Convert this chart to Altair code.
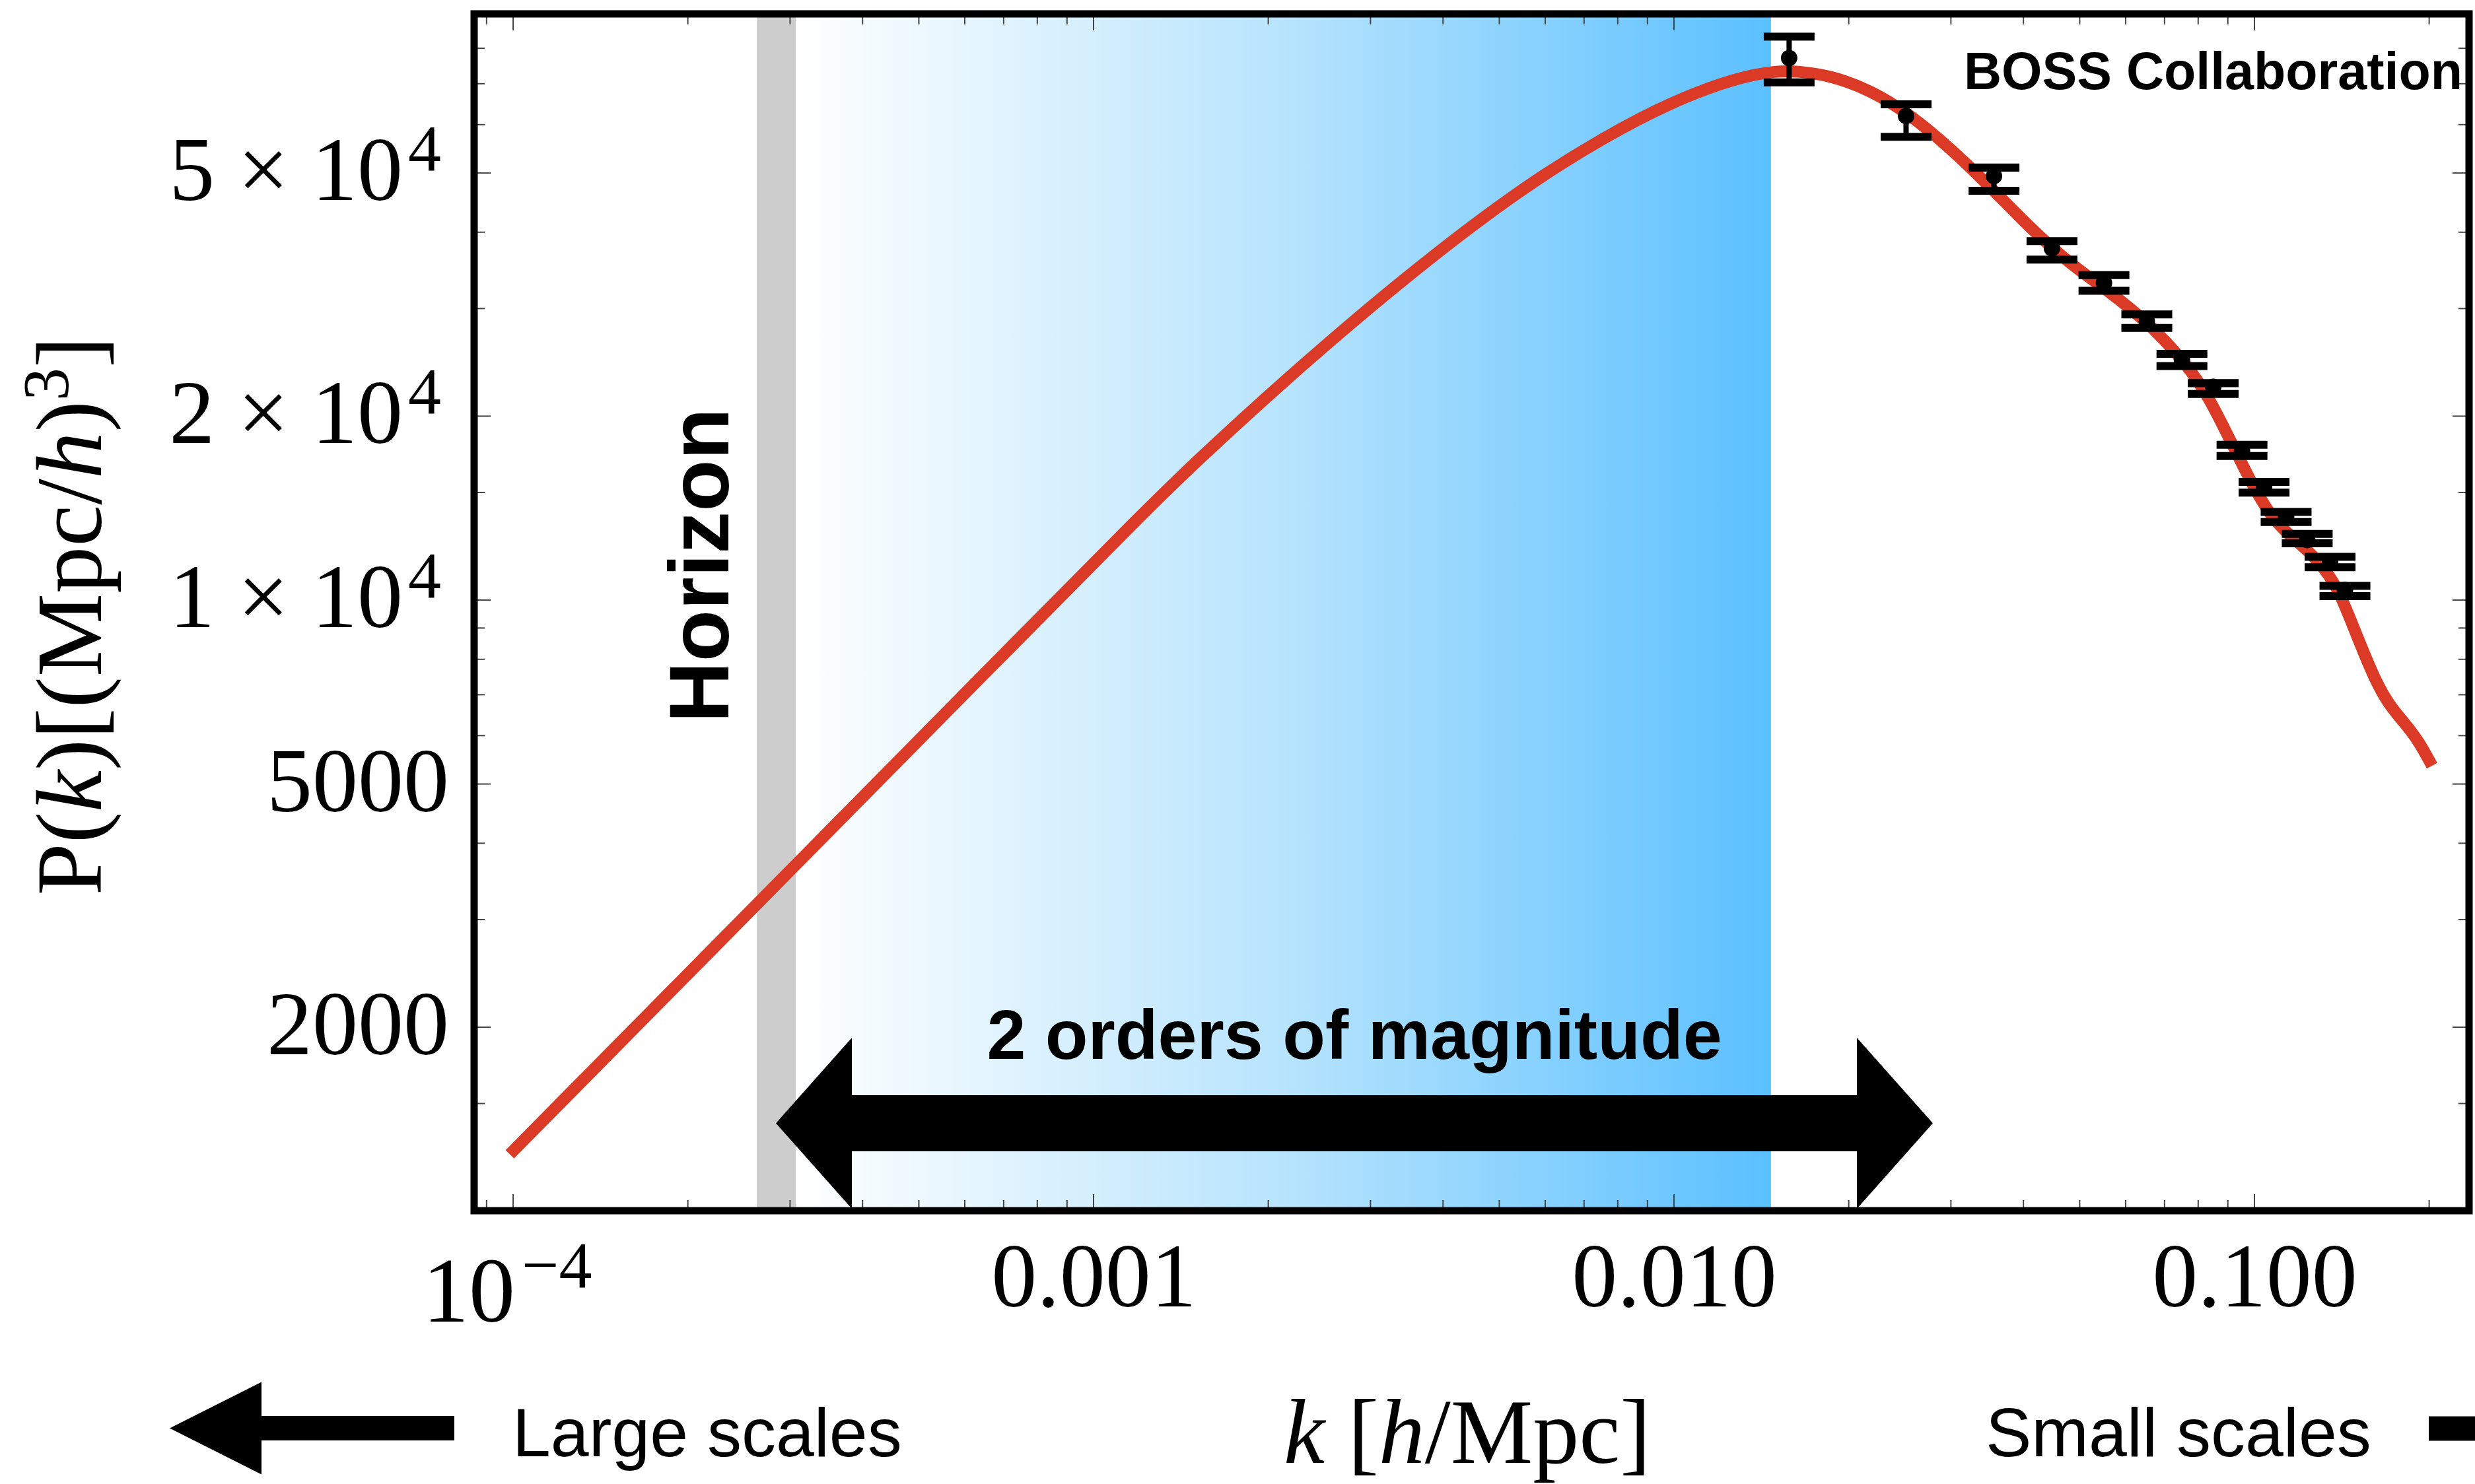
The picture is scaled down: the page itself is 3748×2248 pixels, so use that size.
import altair as alt
import pandas as pd

# ---------------- data ----------------
curve_k = [9.870e-5, 3.516e-4, 6.646e-4, 1.2526e-3, 1.512e-3, 1.976e-3,
           2.581e-3, 3.372e-3, 4.404e-3, 5.754e-3, 7.536e-3, 9.844e-3,
           1.286e-2, 1.509e-2, 1.636e-2, 1.855e-2, 2.177e-2, 2.547e-2,
           2.988e-2, 3.498e-2, 4.104e-2, 4.815e-2, 5.633e-2, 6.611e-2,
           7.735e-2, 8.392e-2, 9.076e-2, 9.817e-2, 0.1065, 0.1152, 0.1246,
           0.1351, 0.1416, 0.1477, 0.1545, 0.1615, 0.1702, 0.1822, 0.1920,
           0.2023]
curve_p = [1239, 4203, 7759, 14272, 16943, 21410,
           26760, 33113, 40480, 48660, 57050, 65260,
           71730, 73530, 73340, 72250, 68410, 62410,
           54960, 47590, 40680, 35460, 31960, 28290,
           24010, 21250, 18300, 15730, 13720, 12730, 11990,
           10965, 10050, 9097, 8176, 7401, 6749, 6265, 5872,
           5356]

boss_k = [0.01579, 0.02511, 0.03559, 0.04479, 0.05505, 0.06525, 0.07501,
          0.08492, 0.09519, 0.1039, 0.1134, 0.1233, 0.1350, 0.1432]
boss_p = [77130, 61980, 49430, 37630, 33050, 28610, 24740,
          22340, 17530, 15300, 13670, 12540, 11550, 10390]
boss_lo = [70360, 57300, 46760, 36080, 32080, 27880, 24150,
           21740, 17210, 14990, 13420, 12390, 11320, 10150]
boss_hi = [83590, 64760, 51030, 38680, 34020, 29350, 25290,
           22650, 17960, 15610, 13940, 12830, 11770, 10550]

horizon_band = [2.629e-4, 3.068e-4]
window_band = [3.068e-4, 0.01469]

x_major = [1e-4, 1e-3, 1e-2, 1e-1]
x_labels = ["", "0.001", "0.010", "0.100"]
x_pow_base, x_pow_exp = "10", "\u22124"
x_minor = [9e-5, 2e-4, 3e-4, 4e-4, 5e-4, 6e-4, 7e-4, 8e-4, 9e-4,
           2e-3, 3e-3, 4e-3, 5e-3, 6e-3, 7e-3, 8e-3, 9e-3,
           0.02, 0.03, 0.04, 0.05, 0.06, 0.07, 0.08, 0.09, 0.2]
y_major = [2000, 5000, 10000, 20000, 50000]
y_plain_vals = [2000, 5000]
y_plain_text = ["2000", "5000"]
y_sci_vals = [10000, 20000, 50000]
y_sci_text = ["1 \u00d7 10", "2 \u00d7 10", "5 \u00d7 10"]
y_sup_text = ["4", "4", "4"]
y_minor = [1500, 3000, 4000, 6000, 7000, 8000, 9000, 15000,
           30000, 40000, 60000, 70000, 80000]

x_domain = [8.567e-5, 0.2343]
y_domain = [1001.5, 91080]

# ---------------- layout / style ----------------
W, H = 3021, 1813
PAD = {"left": 718, "top": 21, "right": 9, "bottom": 414}
SERIF = "Liberation Serif"
SANS = "Liberation Sans"
RED = "#DB3A26"
MAJ, MIN = 25, 16


def label_expr(values, labels):
    expr = f"'{labels[-1]}'"
    for i in range(len(values) - 2, -1, -1):
        thr = (values[i] * values[i + 1]) ** 0.5
        expr = f"datum.value < {thr} ? '{labels[i]}' : ({expr})"
    return expr


xs = alt.Scale(type="log", domain=x_domain, nice=False)
ys = alt.Scale(type="log", domain=y_domain, nice=False)

x_axis = alt.Axis(values=x_major, labelExpr=label_expr(x_major, x_labels),
                  ticks=False, tickSize=0, domain=False, grid=False,
                  labelFont=SERIF, labelFontSize=138, labelColor="black",
                  labelPadding=144, labelBaseline="alphabetic", labelLimit=2000,
                  labelOverlap=False, labelFlush=False, title="")
y_axis = alt.Axis(values=y_major, labels=False, ticks=False, tickSize=0,
                  domain=False, grid=False, title="")

one = pd.DataFrame({"a": [0]})
curve_df = pd.DataFrame({"k": curve_k, "P": curve_p})
boss_df = pd.DataFrame({"k": boss_k, "P": boss_p, "lo": boss_lo, "hi": boss_hi})

layers = []

# blue window gradient
grad = alt.LinearGradient(gradient="linear", x1=0, x2=1, y1=0, y2=0,
                          stops=[alt.GradientStop(color="#FFFFFF", offset=0),
                                 alt.GradientStop(color="#B8E4FD", offset=0.5),
                                 alt.GradientStop(color="#5BC0FF", offset=1)])
layers.append(
    alt.Chart(pd.DataFrame({"k1": [window_band[0]], "k2": [window_band[1]]}))
    .mark_rect(fill=grad, strokeWidth=0)
    .encode(x=alt.X("k1:Q", scale=xs, axis=x_axis), x2="k2:Q",
            y=alt.value(0), y2=alt.value(H))
)
# horizon band
layers.append(
    alt.Chart(pd.DataFrame({"k1": [horizon_band[0]], "k2": [horizon_band[1]]}))
    .mark_rect(fill="#CDCDCD", strokeWidth=0)
    .encode(x=alt.X("k1:Q", scale=xs, axis=x_axis), x2="k2:Q",
            y=alt.value(0), y2=alt.value(H))
)

# inward ticks on all four sides
for vals, ln in ((x_major, MAJ), (x_minor, MIN)):
    d = pd.DataFrame({"k": vals})
    for ya, yb in ((H, H - ln), (0, ln)):
        layers.append(
            alt.Chart(d).mark_rule(color="#444444", strokeWidth=2)
            .encode(x=alt.X("k:Q", scale=xs, axis=x_axis),
                    y=alt.value(ya), y2=alt.value(yb))
        )
for vals, ln in ((y_major, MAJ), (y_minor, MIN)):
    d = pd.DataFrame({"P": vals})
    for xa, xb in ((0, ln), (W, W - ln)):
        layers.append(
            alt.Chart(d).mark_rule(color="#444444", strokeWidth=2)
            .encode(y=alt.Y("P:Q", scale=ys, axis=y_axis),
                    x=alt.value(xa), x2=alt.value(xb))
        )

# power spectrum curve
layers.append(
    alt.Chart(curve_df).mark_line(color=RED, strokeWidth=18, interpolate="basis")
    .encode(x=alt.X("k:Q", scale=xs, axis=x_axis),
            y=alt.Y("P:Q", scale=ys, axis=y_axis))
)

# BOSS error bars
layers.append(
    alt.Chart(boss_df).mark_rule(color="black", strokeWidth=8)
    .encode(x=alt.X("k:Q", scale=xs, axis=x_axis),
            y=alt.Y("lo:Q", scale=ys, axis=y_axis), y2="hi:Q")
)
cap_shape = "M-1,-0.156L1,-0.156L1,0.156L-1,0.156Z"
for col in ("lo", "hi"):
    layers.append(
        alt.Chart(boss_df).mark_point(shape=cap_shape, size=77 ** 2, filled=True,
                                      color="black", opacity=1, strokeWidth=0)
        .encode(x=alt.X("k:Q", scale=xs, axis=x_axis),
                y=alt.Y(f"{col}:Q", scale=ys, axis=y_axis))
    )
layers.append(
    alt.Chart(boss_df).mark_circle(color="black", size=620, opacity=1)
    .encode(x=alt.X("k:Q", scale=xs, axis=x_axis),
            y=alt.Y("P:Q", scale=ys, axis=y_axis))
)

# double arrow
double_arrow = ("M-1,0L-0.8687,-0.1478L-0.8687,-0.0485L0.8687,-0.0485L0.8687,-0.1478"
                "L1,0L0.8687,0.1478L0.8687,0.0485L-0.8687,0.0485L-0.8687,0.1478Z")
layers.append(
    alt.Chart(one).mark_point(shape=double_arrow, size=1752 ** 2, filled=True,
                              color="black", opacity=1, strokeWidth=0)
    .encode(x=alt.value(1333), y=alt.value(1680.5))
)
left_arrow = ("M-1,0L-0.355,-0.3248L-0.355,-0.0858L1,-0.0858L1,0.0858"
              "L-0.355,0.0858L-0.355,0.3248Z")
right_arrow = ("M1,0L0.355,-0.3248L0.355,-0.0858L-1,-0.0858L-1,0.0858"
               "L0.355,0.0858L0.355,0.3248Z")
layers.append(
    alt.Chart(one).mark_point(shape=left_arrow, size=431 ** 2, filled=True,
                              color="black", opacity=1, strokeWidth=0)
    .encode(x=alt.value(-245.5), y=alt.value(2142.5))
)
layers.append(
    alt.Chart(one).mark_point(shape=right_arrow, size=431 ** 2, filled=True,
                              color="black", opacity=1, strokeWidth=0)
    .encode(x=alt.value(3175.5), y=alt.value(2143))
)

# ---- tick labels with real superscripts ----
pow_df = pd.DataFrame({"k": [x_major[0]]})
layers.append(
    alt.Chart(pow_df).mark_text(text=x_pow_base, font=SERIF, fontSize=140,
                                align="right", baseline="alphabetic", dx=3,
                                color="black")
    .encode(x=alt.X("k:Q", scale=xs, axis=x_axis), y=alt.value(1981))
)
layers.append(
    alt.Chart(pow_df).mark_text(text=x_pow_exp, font=SERIF, fontSize=100,
                                align="left", baseline="alphabetic", dx=13,
                                color="black")
    .encode(x=alt.X("k:Q", scale=xs, axis=x_axis), y=alt.value(1929))
)
plain_df = pd.DataFrame({"P": y_plain_vals, "t": y_plain_text})
layers.append(
    alt.Chart(plain_df).mark_text(font=SERIF, fontSize=138, align="right",
                                  baseline="middle", color="black")
    .encode(y=alt.Y("P:Q", scale=ys, axis=y_axis), x=alt.value(-38),
            text="t:N")
)
sci_df = pd.DataFrame({"P": y_sci_vals, "t": y_sci_text, "s": y_sup_text})
layers.append(
    alt.Chart(sci_df).mark_text(font=SERIF, fontSize=138, align="right",
                                baseline="middle", color="black")
    .encode(y=alt.Y("P:Q", scale=ys, axis=y_axis), x=alt.value(-108),
            text="t:N")
)
layers.append(
    alt.Chart(sci_df).mark_text(font=SERIF, fontSize=100, align="left",
                                baseline="alphabetic", dy=-4, color="black")
    .encode(y=alt.Y("P:Q", scale=ys, axis=y_axis), x=alt.value(-100),
            text="s:N")
)


# annotations
def note(text, x, y, size, weight="normal", align="left", angle=0, font=SANS,
         style="normal"):
    return (alt.Chart(one)
            .mark_text(text=text, font=font, fontSize=size, fontWeight=weight,
                       fontStyle=style, align=align, baseline="alphabetic",
                       angle=angle, color="black")
            .encode(x=alt.value(x), y=alt.value(y)))


layers.append(note("2 orders of magnitude", 1333, 1583, 106, "bold", "center"))
layers.append(note("Horizon", 385, 835.5, 128, "bold", "center", 270))
layers.append(note("BOSS Collaboration", 3011, 113.5, 79, "bold", "right"))
layers.append(note("Large scales", 58, 2185, 104))
layers.append(note("Small scales", 2289, 2185, 104))

# ---- axis titles with italic k and h (Times metrics) ----
# x title: "k [h/Mpc]"
xt_fs = 140
xt_pieces = [("k", "italic", 0.444 + 0.25), ("[", "normal", 0.333),
             ("h", "italic", 0.5), ("/Mpc]", "normal", 2.444)]
xt_total = sum(p[2] for p in xt_pieces) * xt_fs
xpos = 1504 - xt_total / 2
for txt, sty, wem in xt_pieces:
    layers.append(note(txt, xpos, 2195, xt_fs, font=SERIF, style=sty))
    xpos += wem * xt_fs

# y title: "P(k)[(Mpc/h)^3]" rotated
yt_fs = 142
sup_fs = 100
yt_pieces = [("P(", "normal", 0.889 * yt_fs, yt_fs, 0),
             ("k", "italic", 0.444 * yt_fs, yt_fs, 0),
             (")[(Mpc/", "normal", 3.11 * yt_fs, yt_fs, 0),
             ("h", "italic", 0.5 * yt_fs, yt_fs, 0),
             (")", "normal", 0.333 * yt_fs, yt_fs, 0),
             ("3", "normal", 0.5 * sup_fs, sup_fs, -50),
             ("]", "normal", 0.333 * yt_fs, yt_fs, 0)]
yt_total = sum(p[2] for p in yt_pieces)
ypos = 912 + yt_total / 2
for txt, sty, wpx, fs, shift in yt_pieces:
    layers.append(note(txt, -565 + shift, ypos, fs, font=SERIF, style=sty,
                       angle=270))
    ypos -= wpx

# frame on top
layers.append(
    alt.Chart(one).mark_rect(fillOpacity=0, stroke="black", strokeWidth=11)
    .encode(x=alt.value(0), x2=alt.value(W), y=alt.value(0), y2=alt.value(H))
)

chart = (alt.layer(*layers)
         .properties(width=W, height=H, padding=PAD, background="white",
                     autosize=alt.AutoSizeParams(type="none"))
         .configure_view(stroke=None))

chart.save("out.html", embed_options={"renderer": "svg", "actions": False})
